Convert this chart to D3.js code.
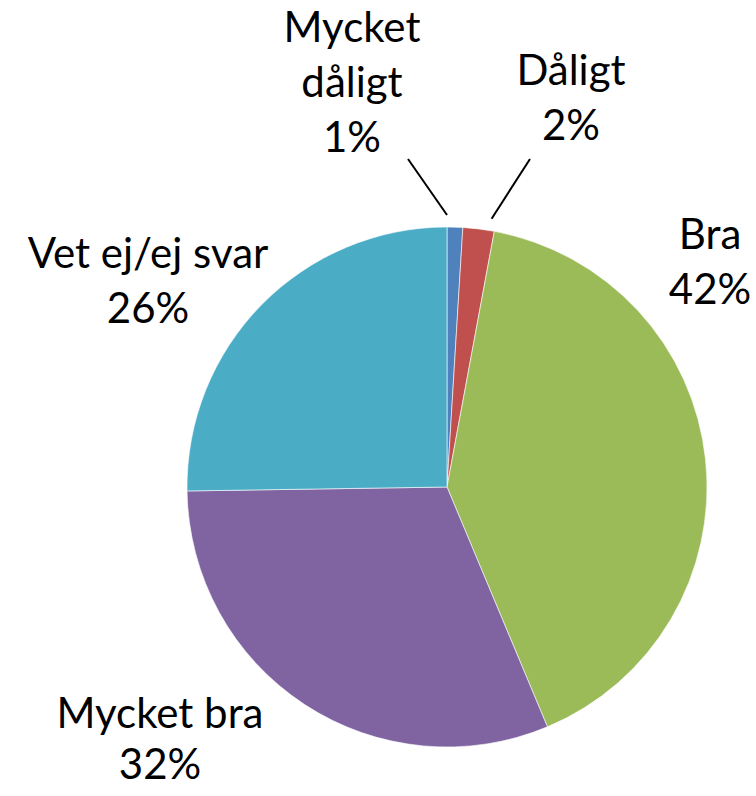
<!DOCTYPE html>
<html lang="sv">
<head>
    <meta charset="UTF-8">
    <title>Pie chart</title>
    <style>
        body { margin: 0; background: #fff; }
        svg { display: block; }
        .label { font-family: Lato, "Open Sans", sans-serif; font-size: 42px; fill: #000; }
    </style>
</head>
<body>
    <svg id="chart" width="756" height="796"></svg>

    <script src="https://d3js.org/d3.v7.min.js"></script>
    <script>
        // Data
        const categories = ["Mycket dåligt", "Dåligt", "Bra", "Mycket bra", "Vet ej/ej svar"];
        const values = [1, 2, 42, 32, 26];
        const colors = ["#4F81BD", "#C0504D", "#9BBB59", "#8064A2", "#4BACC6"];
        // label text split on lines, as Excel wrapped them
        const labelLines = [
            ["Mycket", "dåligt", "1%"],
            ["Dåligt", "2%"],
            ["Bra", "42%"],
            ["Mycket bra", "32%"],
            ["Vet ej/ej svar", "26%"]
        ];

        // Layout: label centre (first baseline) relative to pie centre
        const labelOffset = [[-95, -445], [124, -402], [263, -238], [-287, 241], [-299, -219]];
        // leader lines (only for the small slices), relative to pie centre
        const leaderEnd = [[-39, -328], [83, -328], null, null, null];

        const width = 756, height = 796;
        const cx = 447, cy = 487, radius = 260;
        const lineHeight = 55;

        const svg = d3.select("#chart");
        const g = svg.append("g").attr("transform", `translate(${cx},${cy})`);

        const pie = d3.pie().sort(null).value(d => d)(values);
        const arc = d3.arc().innerRadius(0).outerRadius(radius);

        // slices
        g.selectAll(".slice")
            .data(pie)
            .enter()
            .append("path")
            .attr("class", "slice")
            .attr("d", arc)
            .attr("fill", (d, i) => colors[i])
            .attr("stroke", "#fff")
            .attr("stroke-width", 0.6);

        // leader lines from just outside the slice to the label
        pie.forEach((d, i) => {
            if (!leaderEnd[i]) return;
            // start at the slice's outer edge, a bit inside its span
            const a = d.startAngle + (d.endAngle - d.startAngle) * (i === 0 ? 0 : 0.85);
            const x1 = Math.sin(a) * (radius + 12);
            const y1 = -Math.cos(a) * (radius + 12);
            g.append("line")
                .attr("x1", x1).attr("y1", y1)
                .attr("x2", leaderEnd[i][0]).attr("y2", leaderEnd[i][1])
                .attr("stroke", "#000")
                .attr("stroke-width", 2);
        });

        // labels
        labelLines.forEach((lines, i) => {
            const t = g.append("text")
                .attr("class", "label")
                .attr("text-anchor", "middle")
                .attr("x", labelOffset[i][0])
                .attr("y", labelOffset[i][1]);
            lines.forEach((s, j) => {
                t.append("tspan")
                    .attr("x", labelOffset[i][0])
                    .attr("dy", j === 0 ? 0 : (i === 3 ? 51 : lineHeight))
                    .text(s);
            });
        });
    </script>
</body>
</html>
